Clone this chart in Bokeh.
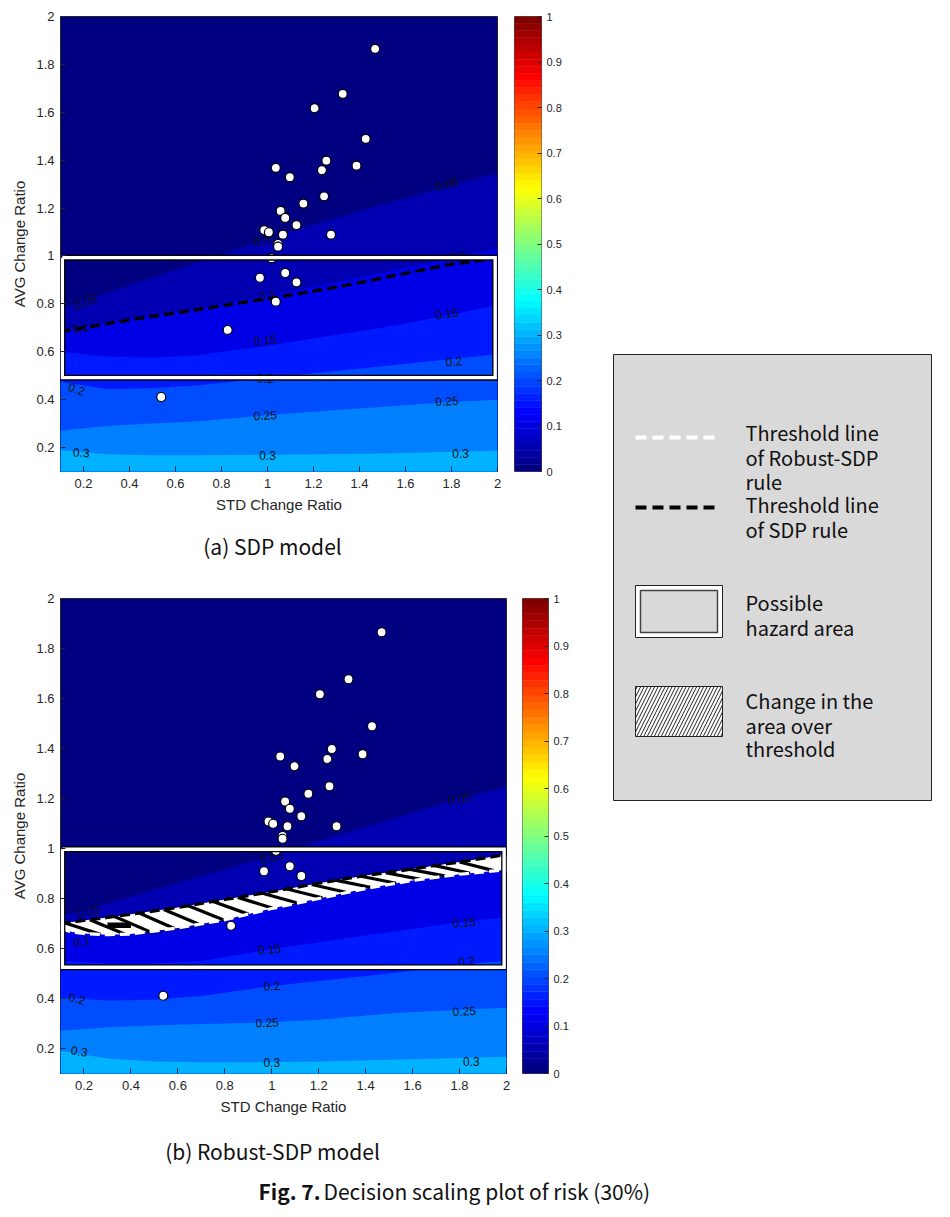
import numpy as np
from bokeh.plotting import figure
from bokeh.layouts import row, column
from bokeh.models import Range1d, FixedTicker, CustomJSTickFormatter, Spacer
from bokeh.core.properties import value
from bokeh.embed import file_html
from bokeh.resources import INLINE

# ---------------- data ----------------
X_TICKS = [0.2, 0.4, 0.6, 0.8, 1.0, 1.2, 1.4, 1.6, 1.8, 2.0]
Y_TICKS = [0.2, 0.4, 0.6, 0.8, 1.0, 1.2, 1.4, 1.6, 1.8, 2.0]
CB_TICKS = [0.0, 0.1, 0.2, 0.3, 0.4, 0.5, 0.6, 0.7, 0.8, 0.9, 1.0]
AXIS_MIN, AXIS_MAX = 0.1, 2.0

LEVELS = [0.05, 0.10, 0.15, 0.20, 0.25, 0.30]
CONTOUR_X = [0.1, 0.3, 0.5, 0.7, 1.0, 1.2, 1.5, 1.8, 2.0]

# (a) SDP model: y of each risk contour at CONTOUR_X
SDP_C005 = [0.78, 0.845, 0.91, 0.975, 1.07, 1.13, 1.215, 1.295, 1.345]
SDP_C010 = [0.69, 0.72, 0.75, 0.78, 0.835, 0.87, 0.93, 0.99, 1.03]
SDP_C015 = [0.60, 0.58, 0.575, 0.585, 0.625, 0.655, 0.70, 0.755, 0.795]
SDP_C020 = [0.475, 0.445, 0.448, 0.46, 0.49, 0.51, 0.54, 0.57, 0.59]
SDP_C025 = [0.27, 0.29, 0.30, 0.31, 0.335, 0.35, 0.37, 0.39, 0.40]
SDP_C030 = [0.19, 0.172, 0.168, 0.168, 0.17, 0.172, 0.175, 0.182, 0.187]

# (b) Robust-SDP model
ROB_C005 = [0.73, 0.78, 0.835, 0.89, 0.97, 1.03, 1.115, 1.2, 1.245]
ROB_C010 = [0.685, 0.655, 0.657, 0.685, 0.76, 0.795, 0.857, 0.897, 0.915]
ROB_C015 = [0.551, 0.54, 0.54, 0.55, 0.598, 0.625, 0.665, 0.705, 0.725]
ROB_C020 = [0.404, 0.392, 0.395, 0.41, 0.45, 0.47, 0.50, 0.535, 0.551]
ROB_C025 = [0.271, 0.285, 0.292, 0.298, 0.305, 0.315, 0.34, 0.355, 0.363]
ROB_C030 = [0.191, 0.16, 0.148, 0.145, 0.145, 0.148, 0.155, 0.162, 0.167]

# threshold lines
LINE_X = [0.1, 0.15, 0.2, 0.3, 0.4, 0.6, 0.8, 1.0, 1.2, 1.4, 1.6, 1.8, 2.0]
SDP_THRESH_A = [0.685, 0.692, 0.70, 0.717, 0.733, 0.762, 0.792, 0.822, 0.853, 0.888, 0.928, 0.966, 0.99]
SDP_THRESH_B = [0.700, 0.706, 0.712, 0.724, 0.737, 0.764, 0.796, 0.827, 0.861, 0.892, 0.918, 0.946, 0.976]
ROBUST_THRESH_B = [0.68, 0.666, 0.66, 0.655, 0.658, 0.682, 0.715, 0.760, 0.800, 0.840, 0.872, 0.897, 0.915]

# observed change ratios (white dots)
STD_RATIO = [1.468, 1.327, 1.205, 1.427, 1.256, 1.387, 1.036, 1.237, 1.097, 1.246,
             1.156, 1.057, 1.077, 1.126, 0.986, 1.006, 1.067, 1.276, 1.046, 1.046,
             1.018, 0.967, 1.077, 1.126, 1.036, 0.827, 0.538]
AVG_RATIO = [1.865, 1.677, 1.617, 1.489, 1.398, 1.377, 1.368, 1.358, 1.329, 1.249,
             1.219, 1.188, 1.159, 1.129, 1.108, 1.099, 1.089, 1.089, 1.050, 1.039,
             0.991, 0.909, 0.929, 0.890, 0.809, 0.691, 0.411]

# contour labels
SDP_LAB_X = [0.21, 0.99, 1.78, 0.19, 1.0, 1.83, 0.99, 1.78, 0.17, 0.99, 1.81, 0.99, 1.78, 0.19, 1.0, 1.84]
SDP_LAB_Y = [0.81, 1.07, 1.30, 0.70, 0.835, 1.0, 0.65, 0.76, 0.445, 0.49, 0.56, 0.335, 0.395, 0.18, 0.165, 0.175]
SDP_LAB_T = ["0.05", "0.05", "0.05", "0.1", "0.1", "0.1", "0.15", "0.15", "0.2", "0.2", "0.2",
             "0.25", "0.25", "0.3", "0.3", "0.3"]
SDP_LAB_A = [20, 14, 14, 10, 10, 10, 5, 8, -20, 0, 5, 3, 3, -3, 0, 0]

ROB_LAB_X = [0.22, 1.0, 1.8, 0.19, 0.99, 1.82, 0.17, 1.0, 1.83, 0.98, 1.82, 0.18, 1.0, 1.85]
ROB_LAB_Y = [0.75, 0.965, 1.2, 0.63, 0.598, 0.705, 0.40, 0.451, 0.55, 0.304, 0.35, 0.19, 0.144, 0.15]
ROB_LAB_T = ["0.05", "0.05", "0.05", "0.1", "0.15", "0.15", "0.2", "0.2", "0.2", "0.25", "0.25",
             "0.3", "0.3", "0.3"]
ROB_LAB_A = [15, 15, 12, 10, 5, 5, -15, 3, 5, 3, 3, -10, 0, 0]

# possible hazard area (left, right, bottom, top)
HAZARD_A = [0.108, 1.99, 0.492, 0.993]
HAZARD_B = [0.108, 1.99, 0.525, 0.997]
# small black artefact in the hatched band of (b)
MARK_B = [0.30, 0.40, 0.682, 0.704]

# ---------------- style ----------------
AX_COL = "#262626"
TICK_FONT = "Liberation Sans"
CAP_FONT = "Noto Sans CJK KR"


def jet(v):
    def c(t):
        return int(round(255 * max(0.0, min(1.0, t))))
    return "#%02x%02x%02x" % (c(1.5 - abs(4 * v - 3)), c(1.5 - abs(4 * v - 2)), c(1.5 - abs(4 * v - 1)))


FMT = CustomJSTickFormatter(code="return String(Math.round(tick*10)/10);")


def panel(frame_w, frame_h, left, bottom, contours, lab_x, lab_y, lab_t, lab_a):
    p = figure(width=left + frame_w + 10, height=8 + frame_h + bottom,
               x_range=Range1d(AXIS_MIN, AXIS_MAX), y_range=Range1d(AXIS_MIN, AXIS_MAX),
               min_border_left=left, min_border_right=10, min_border_top=8, min_border_bottom=bottom,
               background_fill_color=jet(0.0), outline_line_color=AX_COL,
               output_backend="svg", toolbar_location=None)
    p.xgrid.visible = False
    p.ygrid.visible = False
    for lev, ys in zip(LEVELS, contours):
        p.varea(x=CONTOUR_X, y1=[0.0] * len(ys), y2=ys, fill_color=jet(lev))
    p.text(x=lab_x, y=lab_y, text=lab_t, angle=lab_a, angle_units="deg",
           text_align="center", text_baseline="middle", text_font_size="12px",
           text_font=value(TICK_FONT), text_color="#111111")
    for ax, ticks in ((p.xaxis, X_TICKS), (p.yaxis, Y_TICKS)):
        ax.ticker = FixedTicker(ticks=ticks)
        ax.formatter = FMT
        ax.major_tick_in = 5
        ax.major_tick_out = 0
        ax.minor_tick_line_color = None
        ax.major_tick_line_color = AX_COL
        ax.axis_line_color = None
        ax.major_label_text_font = TICK_FONT
        ax.major_label_text_font_size = "13px"
        ax.major_label_text_color = AX_COL
        ax.axis_label_text_font = TICK_FONT
        ax.axis_label_text_font_size = "15px"
        ax.axis_label_text_font_style = "normal"
        ax.axis_label_text_color = AX_COL
    p.xaxis.axis_label = "STD Change Ratio"
    p.yaxis.axis_label = "AVG Change Ratio"
    p.xaxis.major_label_standoff = 7
    p.xaxis.axis_label_standoff = 5
    p.yaxis.major_label_standoff = 6
    p.yaxis.axis_label_standoff = 5
    return p


def hazard(p, box):
    l, r, b, t = box
    xs = [l, r, r, l, l]
    ys = [t, t, b, b, t]
    p.line(xs, ys, line_color="black", line_width=6, line_join="miter")
    p.line(xs, ys, line_color="white", line_width=3.4, line_join="miter")


def cbar(frame_w, frame_h, left, right, bottom):
    c = figure(width=left + frame_w + right, height=8 + frame_h + bottom,
               x_range=Range1d(0, 1), y_range=Range1d(0, 1),
               x_axis_location=None, y_axis_location="right",
               min_border_left=left, min_border_right=right, min_border_top=8, min_border_bottom=bottom,
               outline_line_color="#555555", output_backend="svg", toolbar_location=None)
    c.xgrid.visible = False
    c.ygrid.visible = False
    n = 64
    cols = [jet(i / (n - 1)) for i in range(n)]
    c.quad(left=0, right=1, bottom=[i / n for i in range(n)], top=[(i + 1) / n for i in range(n)],
           fill_color=cols, line_color=cols, line_width=0.5)
    ax = c.yaxis
    ax.ticker = FixedTicker(ticks=CB_TICKS)
    ax.formatter = FMT
    ax.major_tick_in = 4
    ax.major_tick_out = 0
    ax.minor_tick_line_color = None
    ax.major_tick_line_color = AX_COL
    ax.axis_line_color = None
    ax.major_label_text_font = TICK_FONT
    ax.major_label_text_font_size = "11px"
    ax.major_label_text_color = AX_COL
    ax.major_label_standoff = 5
    return c


def blank(w, h, **kw):
    f = figure(width=w, height=h, x_range=Range1d(0, w), y_range=Range1d(h, 0),
               min_border=0, x_axis_location=None, y_axis_location=None,
               outline_line_color=None, output_backend="svg", toolbar_location=None, **kw)
    f.xgrid.visible = False
    f.ygrid.visible = False
    return f


# ---------------- (a) SDP model ----------------
pa = panel(439, 455, 50, 49,
           [SDP_C005, SDP_C010, SDP_C015, SDP_C020, SDP_C025, SDP_C030],
           SDP_LAB_X, SDP_LAB_Y, SDP_LAB_T, SDP_LAB_A)
pa.line(LINE_X, SDP_THRESH_A, line_color="black", line_width=3.2, line_dash="10 5")
pa.scatter(STD_RATIO, AVG_RATIO, size=9, fill_color="white", line_color="black", line_width=1.2)
hazard(pa, HAZARD_A)
cba = cbar(27, 455, 7, 64, 49)

cap_a = blank(597, 70)
cap_a.text(x=[264], y=[25], text=["(a) SDP model"], text_align="center", text_baseline="middle",
           text_font=value(CAP_FONT), text_font_size="21px", text_color="#111111")

# ---------------- (b) Robust-SDP model ----------------
pb = panel(447, 475, 51, 45,
           [ROB_C005, ROB_C010, ROB_C015, ROB_C020, ROB_C025, ROB_C030],
           ROB_LAB_X, ROB_LAB_Y, ROB_LAB_T, ROB_LAB_A)
pb.scatter(STD_RATIO, AVG_RATIO, size=9, fill_color="white", line_color="black", line_width=1.2)
pb.varea(x=LINE_X, y1=ROBUST_THRESH_B, y2=SDP_THRESH_B, fill_color="white")
# shallow hatch stripes across the band between the two threshold lines
s0 = np.arange(0.12, 1.90, 0.105)
s1 = s0 + 0.15
stripe_xs = [[a, b] for a, b in zip(s0, s1)]
stripe_ys = [[float(np.interp(a, LINE_X, SDP_THRESH_B)), float(np.interp(b, LINE_X, ROBUST_THRESH_B))]
             for a, b in zip(s0, s1)]
pb.multi_line(stripe_xs, stripe_ys, line_color="black", line_width=3.2)
pb.quad(left=[MARK_B[0]], right=[MARK_B[1]], bottom=[MARK_B[2]], top=[MARK_B[3]],
        fill_color="black", line_color=None)
pb.line(LINE_X, SDP_THRESH_B, line_color="black", line_width=3.2, line_dash="10 5")
pb.line(LINE_X, ROBUST_THRESH_B, line_color="white", line_width=3.2, line_dash="10 5")
hazard(pb, HAZARD_B)
cbb = cbar(26, 475, 6, 57, 45)

cap_b = blank(597, 52)
cap_b.text(x=[264], y=[32], text=["(b) Robust-SDP model"], text_align="center", text_baseline="middle",
           text_font=value(CAP_FONT), text_font_size="21px", text_color="#111111")

# ---------------- legend box ----------------
LEG_BG = "#d9d9d9"
lg = figure(width=329, height=448, x_range=Range1d(0, 318), y_range=Range1d(446, 0),
            min_border_left=8, min_border_right=3, min_border_top=1, min_border_bottom=1,
            x_axis_location=None, y_axis_location=None,
            background_fill_color=LEG_BG, outline_line_color="#222222", outline_line_width=1,
            output_backend="svg", toolbar_location=None)
lg.xgrid.visible = False
lg.ygrid.visible = False
lg.line([22, 105], [83, 83], line_color="white", line_width=4, line_dash="11 6")
lg.line([22, 105], [153, 153], line_color="black", line_width=4, line_dash="11 6")
lg.quad(left=[22], right=[109], top=[231], bottom=[283], fill_color="white", line_color="#222222", line_width=1)
lg.quad(left=[27], right=[104], top=[236], bottom=[278], fill_color=LEG_BG, line_color="#444444", line_width=1.5)
lg.quad(left=[22], right=[109], top=[332], bottom=[382], fill_color="white", line_color="#222222", line_width=1,
        hatch_pattern="/", hatch_color="#222222", hatch_weight=1, hatch_scale=7)
LEG_TEXT = ["Threshold line", "of Robust-SDP", "rule", "Threshold line", "of SDP rule",
            "Possible", "hazard area", "Change in the", "area over", "threshold"]
LEG_TEXT_Y = [78, 103, 127, 150, 175, 248, 273, 346, 371, 394]
lg.text(x=[132] * len(LEG_TEXT), y=LEG_TEXT_Y, text=LEG_TEXT, text_align="left", text_baseline="middle",
        text_font=value(CAP_FONT), text_font_size="20px", text_color="#111111")

# ---------------- figure caption ----------------
cap = blank(934, 38)
cap.text(x=[250], y=[20], text=["Fig. 7."], text_align="left", text_baseline="middle",
         text_font=value(CAP_FONT), text_font_size="21px", text_font_style="bold", text_color="#111111")
cap.text(x=[315], y=[20], text=["Decision scaling plot of risk (30%)"], text_align="left",
         text_baseline="middle", text_font=value(CAP_FONT), text_font_size="21px", text_color="#111111")

left_col = column(row(pa, cba), cap_a, row(pb, cbb), cap_b)
right_col = column(Spacer(width=329, height=345), lg)
body = column(row(left_col, right_col), cap)
layout = column(Spacer(width=942, height=8), row(Spacer(width=8, height=1200), body))

open("out.html", "w").write(file_html(layout, INLINE))
